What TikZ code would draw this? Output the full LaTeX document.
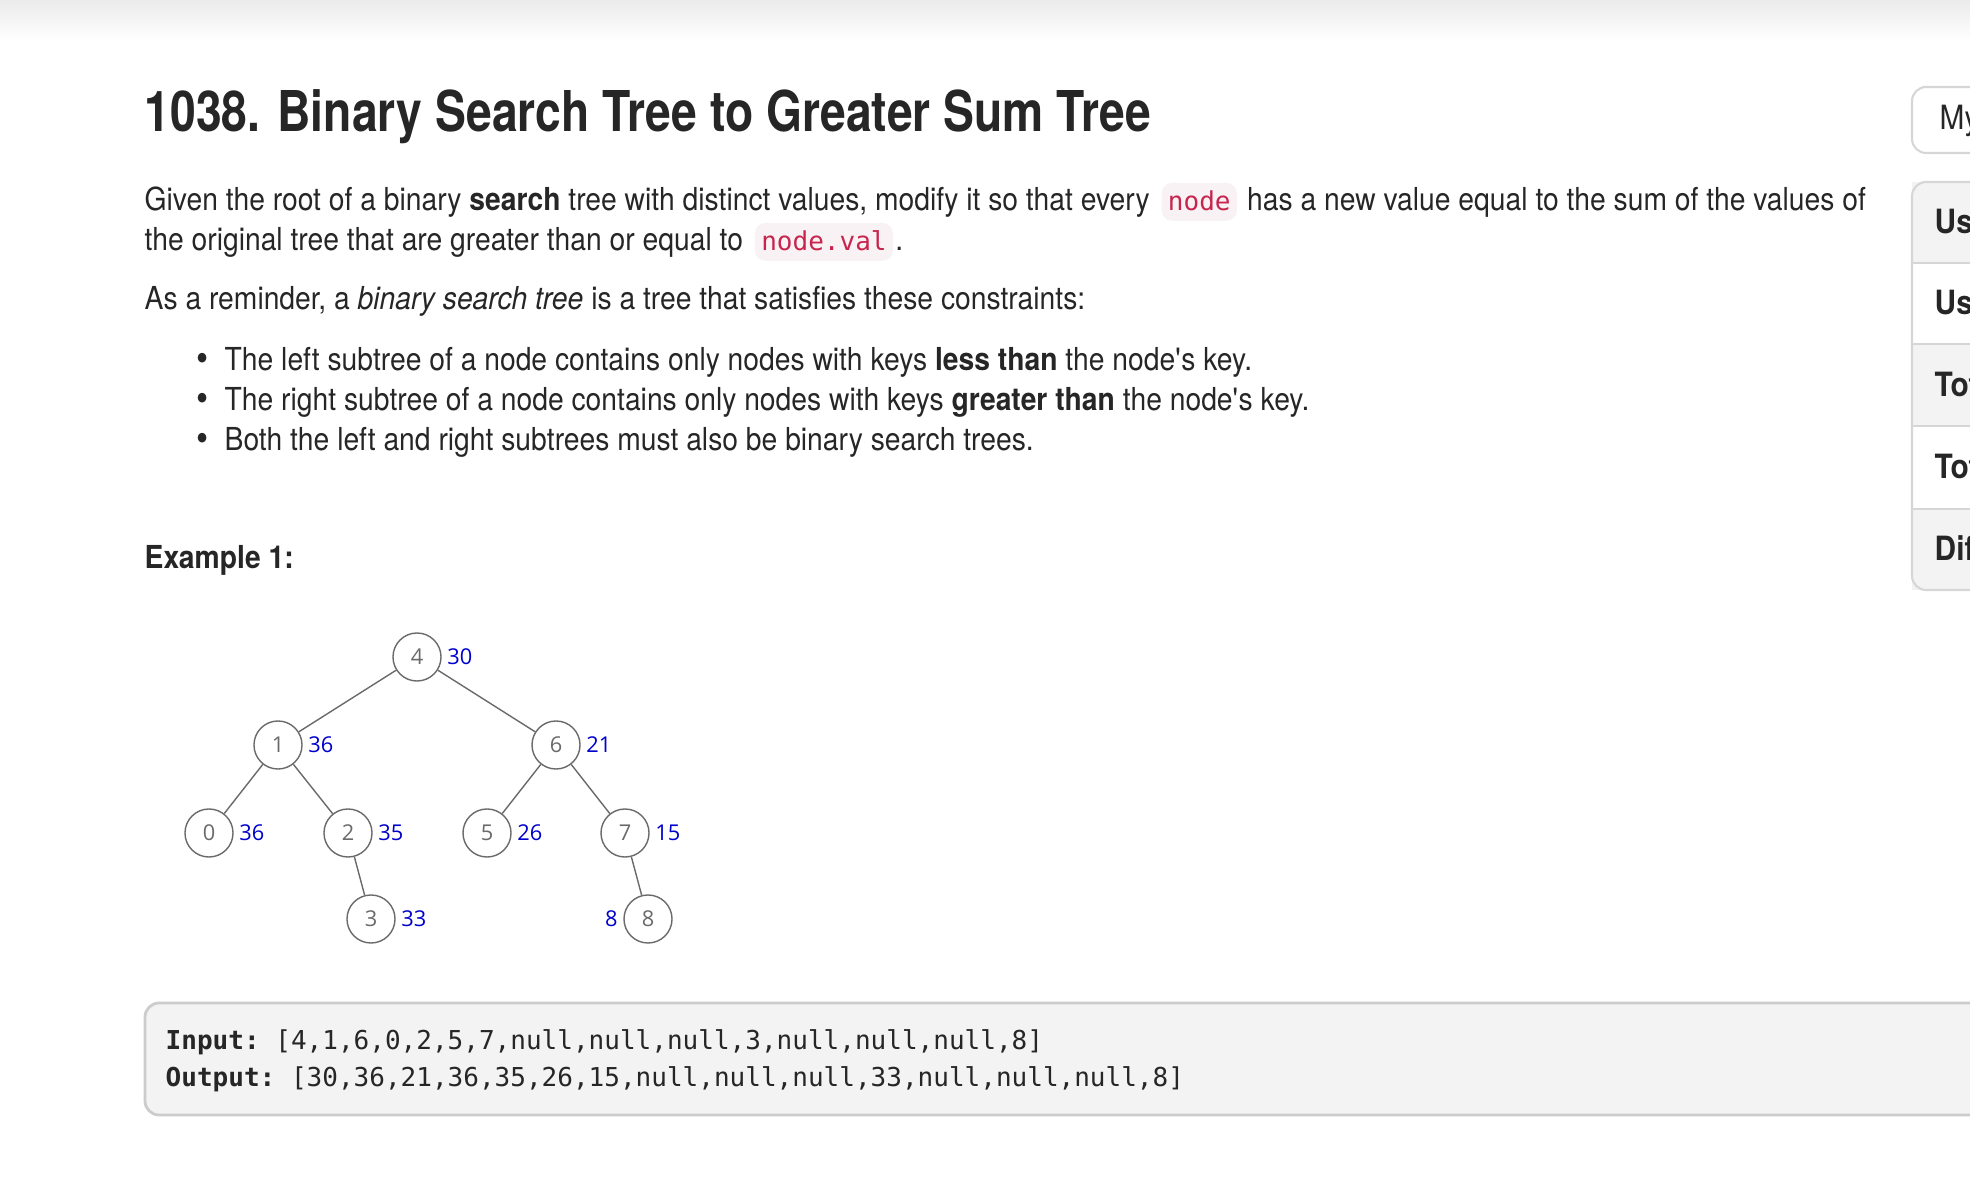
\documentclass[tikz,border=0pt]{standalone}
\usepackage{fontspec}
\setmainfont{TeX Gyre Heros}[FakeStretch=0.893]
\setmonofont{DejaVu Sans Mono}
\newfontfamily\titlefont{TeX Gyre Heros}[FakeStretch=0.822]
\newfontfamily\treefont{Open Sans}
\usetikzlibrary{positioning}
\definecolor{txt}{HTML}{262626}
\definecolor{codefg}{HTML}{C7254E}
\definecolor{codebg}{HTML}{F9F2F4}
\definecolor{boxbg}{HTML}{F3F3F3}
\definecolor{boxline}{HTML}{CCCCCC}
\definecolor{treeline}{HTML}{6A6A6A}
\definecolor{sumblue}{HTML}{0000CC}
\tikzset{
  txtnode/.style={anchor=base west, inner sep=0pt, text=txt, font=\fontsize{9}{11}\selectfont},
  codeword/.style={anchor=base west, fill=codebg, rounded corners=3pt, text=codefg,
    font=\ttfamily\fontsize{7.4}{9}\selectfont, text height=7pt, text depth=1.8pt,
    inner xsep=1.8pt, inner ysep=1pt},
  bstnode/.style={circle, draw=treeline, line width=0.4pt, minimum size=0.48cm, inner sep=0pt,
    text=treeline, font=\treefont\fontsize{6.2}{7}\selectfont},
  sumlbl/.style={text=sumblue, inner sep=0pt, font=\treefont\fontsize{6.2}{7}\selectfont},
  sidetxt/.style={anchor=base west, inner sep=0pt, text=txt, font=\bfseries\fontsize{9.5}{11}\selectfont}
}
\begin{document}
\begin{tikzpicture}[x=0.01cm, y=-0.01cm, label distance=1.4pt]
\useasboundingbox (0,0) rectangle (1970,1186);
\shade[top color=black!8, bottom color=white] (0,0) rectangle (1970,40);

\node[txtnode, font=\titlefont\bfseries\fontsize{16}{18}\selectfont] (title) at (144,132) {1038. Binary Search Tree to Greater Sum Tree};

\node[txtnode] (p1a) at (144,211) {Given the root of a binary \textbf{search} tree with distinct values, modify it so that every};
\node[codeword] (c1) at ([xshift=3pt]p1a.base east) {node};
\node[txtnode] (p1b) at ([xshift=2.5pt]c1.base east) {has a new value equal to the sum of the values of};
\node[txtnode] (p2a) at (144,251) {the original tree that are greater than or equal to};
\node[codeword] (c2) at ([xshift=3pt]p2a.base east) {node.val};
\node[txtnode] (p2b) at ([xshift=0.3pt]c2.base east) {.};

\node[txtnode] (remind) at (144,310) {As a reminder, a \textit{binary search tree} is a tree that satisfies these constraints:};
\node[txtnode, font=\fontsize{11}{11}\selectfont] (b1) at (196,372) {\textbullet};
\node[txtnode] (r1) at (224,371) {The left subtree of a node contains only nodes with keys \textbf{less than} the node\textquotesingle s key.};
\node[txtnode, font=\fontsize{11}{11}\selectfont] (b2) at (196,412) {\textbullet};
\node[txtnode] (r2) at (224,411) {The right subtree of a node contains only nodes with keys \textbf{greater than} the node\textquotesingle s key.};
\node[txtnode, font=\fontsize{11}{11}\selectfont] (b3) at (196,452) {\textbullet};
\node[txtnode] (r3) at (224,451) {Both the left and right subtrees must also be binary search trees.};

\node[txtnode, font=\bfseries\fontsize{9}{11}\selectfont] (ex) at (144,569) {Example 1:};

\node[bstnode, label={[sumlbl]right:30}] (n4) at (417,657) {4};
\node[bstnode, label={[sumlbl]right:36}] (n1) at (278,745) {1};
\node[bstnode, label={[sumlbl]right:21}] (n6) at (556,745) {6};
\node[bstnode, label={[sumlbl]right:36}] (n0) at (209,833) {0};
\node[bstnode, label={[sumlbl]right:35}] (n2) at (348,833) {2};
\node[bstnode, label={[sumlbl]right:26}] (n5) at (487,833) {5};
\node[bstnode, label={[sumlbl]right:15}] (n7) at (625,833) {7};
\node[bstnode, label={[sumlbl]right:33}] (n3) at (371,919) {3};
\node[bstnode, label={[sumlbl]left:8}] (n8) at (648,919) {8};
\draw[treeline, line width=0.4pt] (n4) -- (n1);
\draw[treeline, line width=0.4pt] (n4) -- (n6);
\draw[treeline, line width=0.4pt] (n1) -- (n0);
\draw[treeline, line width=0.4pt] (n1) -- (n2);
\draw[treeline, line width=0.4pt] (n6) -- (n5);
\draw[treeline, line width=0.4pt] (n6) -- (n7);
\draw[treeline, line width=0.4pt] (n2) -- (n3);
\draw[treeline, line width=0.4pt] (n7) -- (n8);

\draw[boxline, fill=boxbg, line width=0.8pt, rounded corners=4pt] (145,1003) rectangle (2010,1115);
\node[txtnode, font=\ttfamily\fontsize{7.4}{9}\selectfont] (inp) at (165,1049) {\textbf{Input:} [4,1,6,0,2,5,7,null,null,null,3,null,null,null,8]};
\node[txtnode, font=\ttfamily\fontsize{7.4}{9}\selectfont] (outp) at (165,1086) {\textbf{Output:} [30,36,21,36,35,26,15,null,null,null,33,null,null,null,8]};

\begin{scope}
\clip (0,0) rectangle (1970,1186);
\draw[boxline!80, fill=white, line width=0.6pt, rounded corners=4pt] (1912,87) rectangle (2010,153);
\node[txtnode, font=\fontsize{9.5}{11}\selectfont] (my) at (1939,130) {My Submissions};
\fill[boxbg] (1912,182) rectangle (2010,263);
\fill[boxbg] (1912,344) rectangle (2010,426);
\fill[boxbg] (1912,509) rectangle (2010,590);
\draw[boxline!80, line width=0.6pt] (1912,263) -- (2010,263);
\draw[boxline!80, line width=0.6pt] (1912,344) -- (2010,344);
\draw[boxline!80, line width=0.6pt] (1912,426) -- (2010,426);
\draw[boxline!80, line width=0.6pt] (1912,509) -- (2010,509);
\draw[boxline!80, line width=0.6pt, rounded corners=4pt] (1912,182) rectangle (2010,590);
\node[sidetxt] (s1) at (1934,234) {User Accepted:};
\node[sidetxt] (s2) at (1934,315) {User Tried:};
\node[sidetxt] (s3) at (1934,397) {Total Accepted:};
\node[sidetxt] (s4) at (1934,479) {Total Submissions:};
\node[sidetxt] (s5) at (1934,561) {Difficulty:};
\end{scope}
\end{tikzpicture}
\end{document}
